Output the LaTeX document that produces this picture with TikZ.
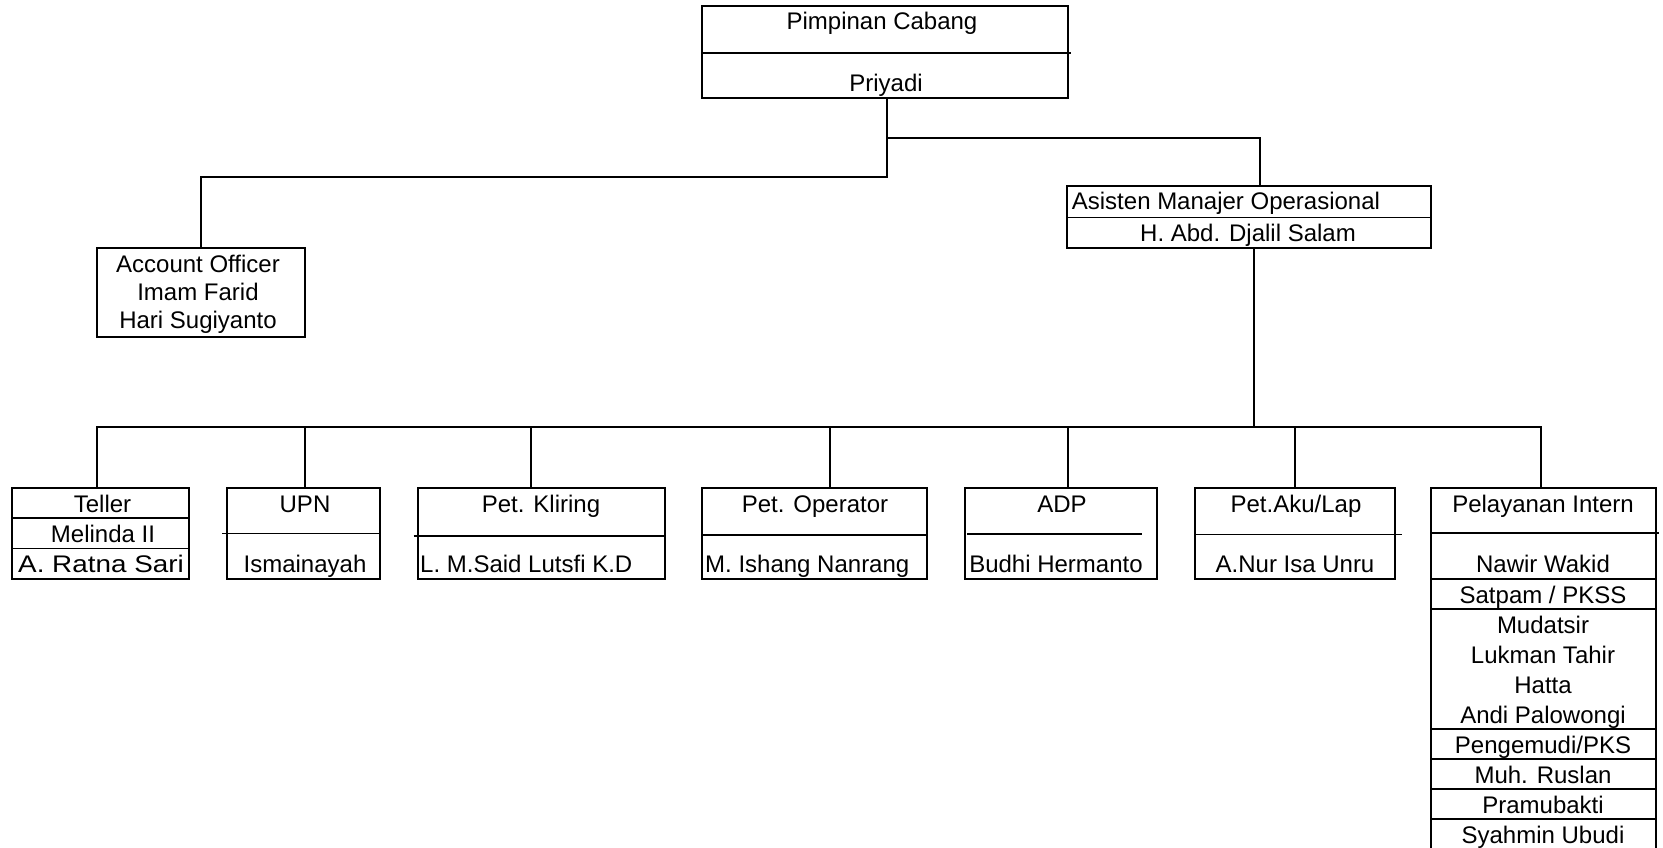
\documentclass[tikz,border=0pt]{standalone}
\usepackage{fontspec}
\setmainfont{Liberation Sans}
\usepackage{tikz}

\begin{document}
\begin{tikzpicture}[x=1pt, y=-1pt,
        box/.style={draw, line width=2pt, inner sep=0pt},
        con/.style={line width=2pt},
        sep/.style={line width=1.5pt},
        txt/.style={anchor=base, inner sep=0pt, font=\fontsize{24}{29}\selectfont},
        txtl/.style={txt, anchor=base west}]
        \useasboundingbox (0,0) rectangle (1663,848);

        \node[box, minimum width=366, minimum height=92] (pim) at (885,52) {};
        \node[box, minimum width=208, minimum height=89] (ao) at (201,292.5) {};
        \node[box, minimum width=364, minimum height=62] (amo) at (1249,217) {};
        \node[box, minimum width=177, minimum height=91] (teller) at (100.5,533.5) {};
        \node[box, minimum width=153, minimum height=91] (upn) at (303.5,533.5) {};
        \node[box, minimum width=247, minimum height=91] (kliring) at (541.5,533.5) {};
        \node[box, minimum width=225, minimum height=91] (operator) at (814.5,533.5) {};
        \node[box, minimum width=192, minimum height=91] (adp) at (1061,533.5) {};
        \node[box, minimum width=200, minimum height=91] (aku) at (1295,533.5) {};
        \node[box, minimum width=225, minimum height=382] (intern) at (1543.5,679) {};

        \draw[sep] (702,53) -- (1071,53);
        \draw[sep] (1067,217.5) -- (1431,217.5);
        \draw[sep] (12,518) -- (189,518);
        \draw[sep] (12,548.5) -- (189,548.5);
        \draw[sep] (222,533.5) -- (379,533.5);
        \draw[sep] (413.6,536) -- (665,536);
        \draw[sep] (702,535) -- (927,535);
        \draw[sep] (967,534) -- (1142,534);
        \draw[sep] (1195,534.5) -- (1402,534.5);
        \draw[sep] (1431,533) -- (1659,533);
        \foreach \y in {579,609,729,759,789,819}
            \draw[sep] (1431,\y) -- (1656,\y);

        \node[txt] (pimA) at (882,30) {Pimpinan Cabang};
        \node[txt] (pimB) at (886,92) {Priyadi};
        \node[txt] (aoA) at (198,272) {Account Officer};
        \node[txt] (aoB) at (198,300) {Imam Farid};
        \node[txt] (aoC) at (198,328) {Hari Sugiyanto};
        \node[txtl] (amoA) at (1071.7,209) {Asisten Manajer Operasional};
        \node[txt] (amoB) at (1248,241) {H. Abd. Djalil Salam};
        \node[txt] (tellerA) at (102.5,512) {Teller};
        \node[txt] (tellerB) at (103,542) {Melinda II};
        \node[txt] (tellerC) at (101,572) {\scalebox{1.16}[1]{A. Ratna Sari}};
        \node[txt] (upnA) at (305,512) {UPN};
        \node[txt] (upnB) at (305,572) {Ismainayah};
        \node[txt] (kliringA) at (541,512) {Pet. Kliring};
        \node[txtl] (kliringB) at (420,572) {L. M.Said Lutsfi K.D};
        \node[txt] (operatorA) at (815,512) {Pet. Operator};
        \node[txtl] (operatorB) at (705,572) {M. Ishang Nanrang};
        \node[txt] (adpA) at (1062,512) {ADP};
        \node[txt] (adpB) at (1056,572) {Budhi Hermanto};
        \node[txt] (akuA) at (1296,512) {Pet.Aku/Lap};
        \node[txt] (akuB) at (1295,572) {A.Nur Isa Unru};
        \node[txt] (internA) at (1543,512) {Pelayanan Intern};
        \foreach \y/\t [count=\i] in {572/Nawir Wakid, 603/{Satpam / PKSS}, 633/Mudatsir,
                663/Lukman Tahir, 693/Hatta, 723/Andi Palowongi, 753/{Pengemudi/PKS},
                783/Muh. Ruslan, 813/Pramubakti, 843/Syahmin Ubudi}
            \node[txt] (intern\i) at (1543,\y) {\t};

        \coordinate (jl) at (886.7,177.3);
        \coordinate (jr) at (886.7,138);
        \coordinate (bus) at (1254,427.3);
        \draw[con] ([xshift=1.7]pim.south) -- (jl) -| (ao.north);
        \draw[con] (jr) -| ([xshift=11]amo.north);
        \draw[con] ([xshift=5]amo.south) -- (bus);
        \foreach \n/\d in {teller/-4, upn/1, kliring/-10.5, operator/15, adp/7, aku/0, intern/-2.5}
            \draw[con] (bus) -| ([xshift=\d]\n.north);
\end{tikzpicture}
\end{document}
